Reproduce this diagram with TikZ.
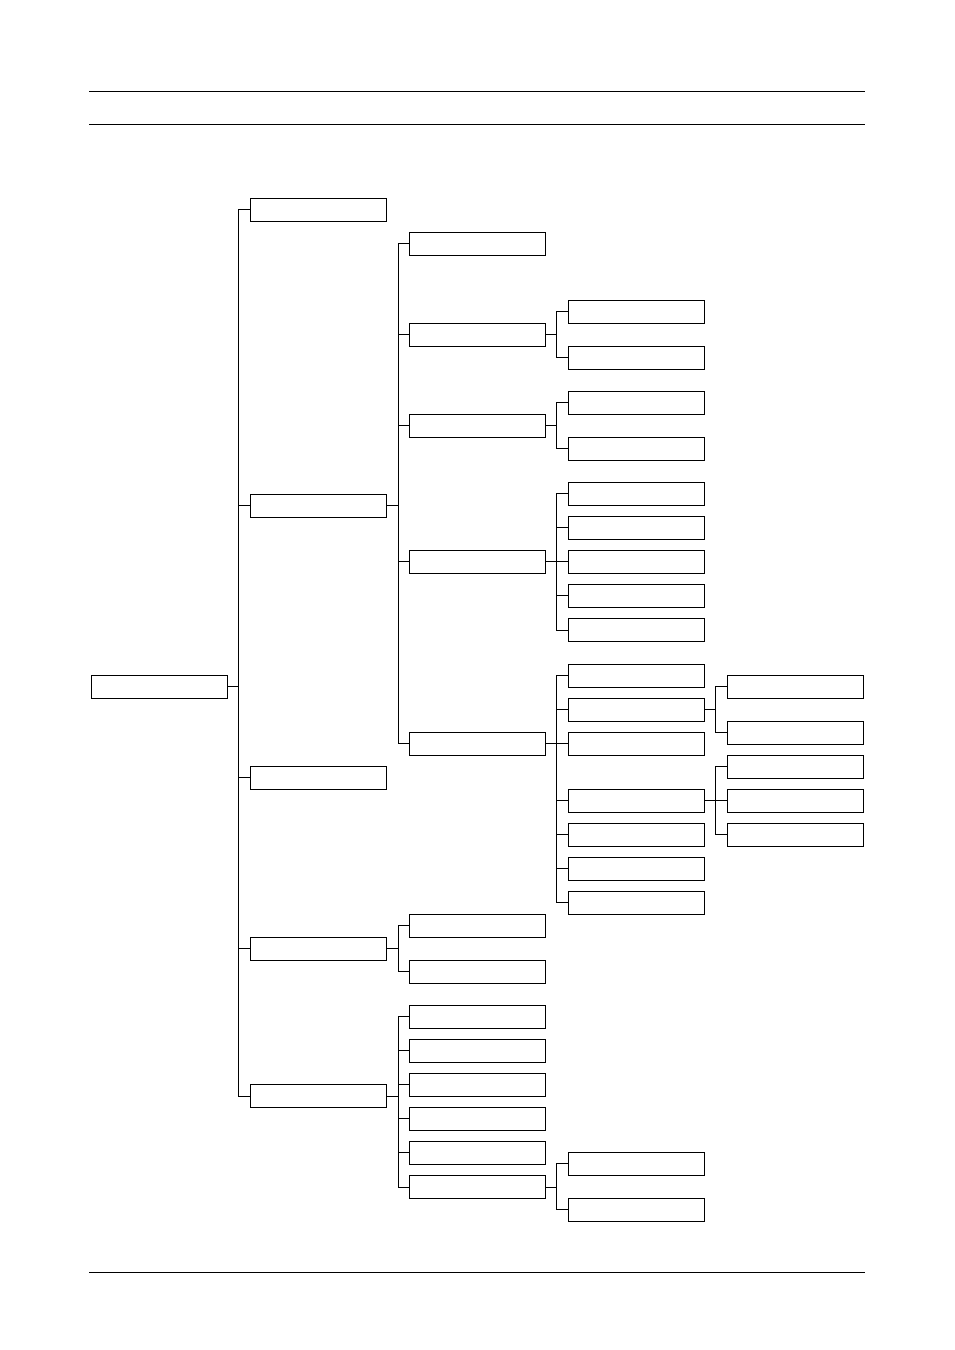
\documentclass[tikz,border=0pt]{standalone}
\usetikzlibrary{positioning}

\begin{document}
\begin{tikzpicture}[
  x=0.5pt, y=-0.5pt,
  box/.style  = {draw, rectangle, fill=white, line width=0.5pt,
                 minimum width=68pt, minimum height=11.5pt,
                 inner sep=0pt, outer sep=0pt},
  link/.style = {draw, line width=0.5pt},
  rule/.style = {draw, line width=0.5pt},
]
\useasboundingbox (0,0) rectangle (954,1350);

%── Kopf- und Fußlinien ───────────────────────────────────────────────────
\coordinate (h1l) at (89,91);   \coordinate (h1r) at (865,91);
\coordinate (h2l) at (89,124);  \coordinate (h2r) at (865,124);
\coordinate (f1l) at (89,1272); \coordinate (f1r) at (865,1272);
\draw[rule] (h1l) -- (h1r);
\draw[rule] (h2l) -- (h2r);
\draw[rule] (f1l) -- (f1r);

%── Wurzel ────────────────────────────────────────────────────────────────
\node[box] (root) at (159,686.5) {};

%── Ebene 1 ───────────────────────────────────────────────────────────────
\node[box] (a1) at (318.5,209.5) {};
\node[box] (a2) at (318.5,505.5) {};
\node[box] (a3) at (318.5,777.5) {};
\node[box] (a4) at (318.5,948.5) {};
\node[box] (a5) at (318.5,1096)  {};

%── Ebene 2 ───────────────────────────────────────────────────────────────
\node[box] (b1) at (477.5,243.5) {};
\node[box] (b2) at (477.5,334.5) {};
\node[box] (b3) at (477.5,425.5) {};
\node[box] (b4) at (477.5,561.5) {};
\node[box] (b5) at (477.5,743.5) {};

\node[box] (d1) at (477.5,925.5) {};
\node[box] (d2) at (477.5,971.5) {};

\node[box] (e1) at (477.5,1016.5) {};
\node[box] (e2) at (477.5,1050.5) {};
\node[box] (e3) at (477.5,1084.5) {};
\node[box] (e4) at (477.5,1118.5) {};
\node[box] (e5) at (477.5,1152.5) {};
\node[box] (e6) at (477.5,1187)   {};

%── Ebene 3 ───────────────────────────────────────────────────────────────
\node[box] (b2a) at (636.5,311.5) {};
\node[box] (b2b) at (636.5,357.5) {};

\node[box] (b3a) at (636.5,402.5) {};
\node[box] (b3b) at (636.5,448.5) {};

\node[box] (b4a) at (636.5,493.5) {};
\node[box] (b4b) at (636.5,527.5) {};
\node[box] (b4c) at (636.5,561.5) {};
\node[box] (b4d) at (636.5,595.5) {};
\node[box] (b4e) at (636.5,630)   {};

\node[box] (b5a) at (636.5,675.5) {};
\node[box] (b5b) at (636.5,709.5) {};
\node[box] (b5c) at (636.5,743.5) {};
\node[box] (b5d) at (636.5,800.5) {};
\node[box] (b5e) at (636.5,834.5) {};
\node[box] (b5f) at (636.5,868.5) {};
\node[box] (b5g) at (636.5,902.5) {};

\node[box] (e6a) at (636.5,1163.5) {};
\node[box] (e6b) at (636.5,1209.5) {};

%── Ebene 4 ───────────────────────────────────────────────────────────────
\node[box] (b5b1) at (795.5,686.5) {};
\node[box] (b5b2) at (795.5,732.5) {};

\node[box] (b5d1) at (795.5,766.5) {};
\node[box] (b5d2) at (795.5,800.5) {};
\node[box] (b5d3) at (795.5,834.5) {};

%── Verbindungen ──────────────────────────────────────────────────────────
\draw[link] (root.east) -- ++(11,0) |- (a1.west);
\draw[link] (root.east) -- ++(11,0) |- (a2.west);
\draw[link] (root.east) -- ++(11,0) |- (a3.west);
\draw[link] (root.east) -- ++(11,0) |- (a4.west);
\draw[link] (root.east) -- ++(11,0) |- (a5.west);

\draw[link] (a2.east) -- ++(11.5,0) |- (b1.west);
\draw[link] (a2.east) -- ++(11.5,0) |- (b2.west);
\draw[link] (a2.east) -- ++(11.5,0) |- (b3.west);
\draw[link] (a2.east) -- ++(11.5,0) |- (b4.west);
\draw[link] (a2.east) -- ++(11.5,0) |- (b5.west);

\draw[link] (a4.east) -- ++(11.5,0) |- (d1.west);
\draw[link] (a4.east) -- ++(11.5,0) |- (d2.west);

\draw[link] (a5.east) -- ++(11.5,0) |- (e1.west);
\draw[link] (a5.east) -- ++(11.5,0) |- (e2.west);
\draw[link] (a5.east) -- ++(11.5,0) |- (e3.west);
\draw[link] (a5.east) -- ++(11.5,0) |- (e4.west);
\draw[link] (a5.east) -- ++(11.5,0) |- (e5.west);
\draw[link] (a5.east) -- ++(11.5,0) |- (e6.west);

\draw[link] (b2.east) -- ++(11,0) |- (b2a.west);
\draw[link] (b2.east) -- ++(11,0) |- (b2b.west);

\draw[link] (b3.east) -- ++(11,0) |- (b3a.west);
\draw[link] (b3.east) -- ++(11,0) |- (b3b.west);

\draw[link] (b4.east) -- ++(11,0) |- (b4a.west);
\draw[link] (b4.east) -- ++(11,0) |- (b4b.west);
\draw[link] (b4.east) -- ++(11,0) |- (b4c.west);
\draw[link] (b4.east) -- ++(11,0) |- (b4d.west);
\draw[link] (b4.east) -- ++(11,0) |- (b4e.west);

\draw[link] (b5.east) -- ++(11,0) |- (b5a.west);
\draw[link] (b5.east) -- ++(11,0) |- (b5b.west);
\draw[link] (b5.east) -- ++(11,0) |- (b5c.west);
\draw[link] (b5.east) -- ++(11,0) |- (b5d.west);
\draw[link] (b5.east) -- ++(11,0) |- (b5e.west);
\draw[link] (b5.east) -- ++(11,0) |- (b5f.west);
\draw[link] (b5.east) -- ++(11,0) |- (b5g.west);

\draw[link] (e6.east) -- ++(11,0) |- (e6a.west);
\draw[link] (e6.east) -- ++(11,0) |- (e6b.west);

\draw[link] (b5b.east) -- ++(11,0) |- (b5b1.west);
\draw[link] (b5b.east) -- ++(11,0) |- (b5b2.west);

\draw[link] (b5d.east) -- ++(11,0) |- (b5d1.west);
\draw[link] (b5d.east) -- ++(11,0) |- (b5d2.west);
\draw[link] (b5d.east) -- ++(11,0) |- (b5d3.west);

\end{tikzpicture}
\end{document}
